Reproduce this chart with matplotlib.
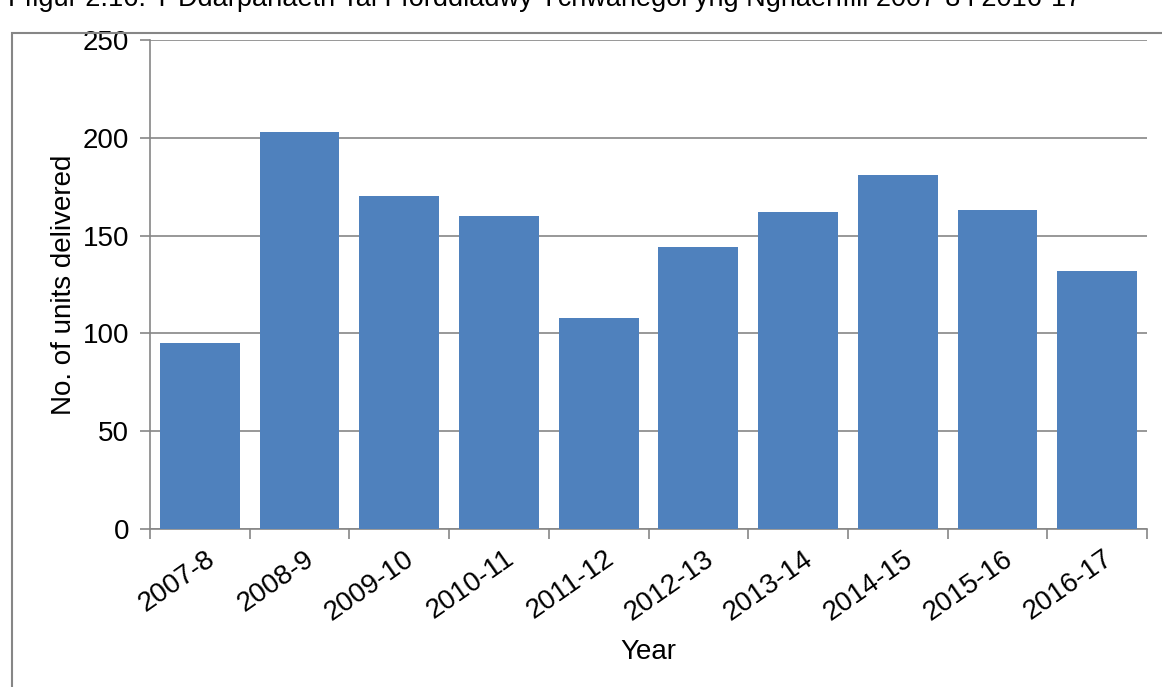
import matplotlib
matplotlib.use('Agg')
import matplotlib.pyplot as plt
from matplotlib.patches import Rectangle

years = ['2007-8', '2008-9', '2009-10', '2010-11', '2011-12',
         '2012-13', '2013-14', '2014-15', '2015-16', '2016-17']
units = [95, 203, 170, 160, 108, 144, 162, 181, 163, 132]
title = 'Ffigur 2.16: Y Ddarpariaeth Tai Fforddiadwy Ychwanegol yng Nghaerffili 2007-8 i 2016-17'

plt.rcParams['font.family'] = ['Liberation Sans', 'DejaVu Sans']
grey = '#868686'
fs = 20

fig = plt.figure(figsize=(11.62, 6.87), dpi=100)
W, H = 1162, 687

# outer chart border (clipped at right/bottom)
fig.patches.append(Rectangle((12 / W, -0.1), 1.2, (687 - 33) / H + 0.1,
                             transform=fig.transFigure, fill=False,
                             edgecolor=grey, linewidth=1.5))
# title, cut off at top like the source
fig.text(8 / W, 1 + 1 / H, title, fontsize=19.5, ha='left', va='center')

ax = fig.add_axes([150 / W, 1 - 529 / H, (1147 - 150) / W, (529 - 40) / H])
x = range(len(years))
ax.bar(x, units, width=0.8, color='#4F81BD', zorder=3)

ax.set_xlim(-0.5, len(years) - 0.5)
ax.set_ylim(0, 250)
ax.set_yticks(range(0, 251, 50))
ax.yaxis.grid(True, color=grey, linewidth=1.2)
ax.set_axisbelow(True)

ax.set_xticks([i - 0.5 for i in range(len(years) + 1)], minor=False)
ax.set_xticklabels([])
ax.set_xticks([i + 0.05 for i in x], minor=True)
ax.set_xticklabels(years, minor=True, rotation=35, ha='right',
                   rotation_mode='anchor', fontsize=fs)
ax.tick_params(axis='x', which='minor', length=0, pad=12)
ax.tick_params(axis='x', which='major', length=7, color=grey, width=1.2)
ax.tick_params(axis='y', length=7, color=grey, width=1.2, labelsize=fs, pad=8)

for s in ['top', 'right']:
    ax.spines[s].set_visible(False)
for s in ['left', 'bottom']:
    ax.spines[s].set_color(grey)
    ax.spines[s].set_linewidth(1.2)

ax.set_ylabel('No. of units delivered', fontsize=fs, labelpad=4)
ax.set_xlabel('Year', fontsize=fs, labelpad=10)

fig.savefig('out.png', dpi=100)
